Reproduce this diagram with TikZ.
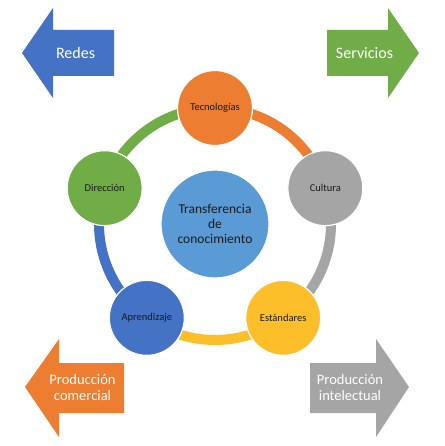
\documentclass[tikz,border=0pt]{standalone}
\usepackage{fontspec}
\setmainfont{Carlito}
\usetikzlibrary{calc}
\definecolor{oblue}{HTML}{4472C4}
\definecolor{oorange}{HTML}{ED7D31}
\definecolor{ogray}{HTML}{A5A5A5}
\definecolor{oyellow}{HTML}{FCBF2A}
\definecolor{ogreen}{HTML}{70AD47}
\definecolor{olblue}{HTML}{5B9BD5}
\definecolor{otext}{HTML}{1A1A1A}
\pgfdeclarelayer{bg}
\pgfsetlayers{bg,main}
\begin{document}
\begin{tikzpicture}[x=1pt,y=-1pt,
  bubble/.style={circle,draw=white,line width=1.2pt,minimum size=75pt,inner sep=0pt,
    font=\fontsize{10.5}{12}\selectfont,text=otext},
  ringarc/.style={line width=10pt},
  arrowtext/.style={text=white,align=center,font=\fontsize{16}{17}\selectfont},
  arrowtexts/.style={text=white,align=center,font=\fontsize{14.5}{16}\selectfont}]
\useasboundingbox (0,0) rectangle (444,446);
\coordinate (ctr) at (215,224);
\node[bubble,fill=oorange] (tec) at ($(ctr)+(-90:116)$) {Tecnologías};
\node[bubble,fill=ogray] (cul) at ($(ctr)+(-18:116)$) {Cultura};
\node[bubble,fill=oyellow] (est) at ($(ctr)+(54:116)$) {Estándares};
\node[bubble,fill=oblue] (apr) at ($(ctr)+(126:116)$) {Aprendizaje};
\node[bubble,fill=ogreen] (dir) at ($(ctr)+(198:116)$) {Dirección};
\node[circle,draw=white,line width=1.2pt,fill=olblue,minimum size=108pt,inner sep=0pt,
  align=center,text=otext,font=\fontsize{13.5}{15}\selectfont] (tra) at (ctr)
  {Transferencia\\de\\conocimiento};
\begin{pgfonlayer}{bg}
\fill[white] (0,0) rectangle (444,446);
\draw[ringarc,oorange] (tec.center) arc[start angle=-90,end angle=-18,radius=116];
\draw[ringarc,ogray] (cul.center) arc[start angle=-18,end angle=54,radius=116];
\draw[ringarc,oyellow] (est.center) arc[start angle=54,end angle=126,radius=116];
\draw[ringarc,oblue] (apr.center) arc[start angle=126,end angle=198,radius=116];
\draw[ringarc,ogreen] (dir.center) arc[start angle=198,end angle=270,radius=116];
\end{pgfonlayer}
% arrows
\fill[oblue] (22,53) -- (53,8) -- (53,30) -- (114,30) -- (114,76) -- (53,76) -- (53,98) -- cycle;
\node[arrowtext] (redes) at (75.5,53) {Redes};
\fill[ogreen] (419,53) -- (388,8) -- (388,30) -- (327,30) -- (327,76) -- (388,76) -- (388,98) -- cycle;
\node[arrowtext] (serv) at (364.5,53) {Servicios};
\fill[oorange] (25,387) -- (59,339) -- (59,363) -- (124,363) -- (124,413) -- (59,413) -- (59,437) -- cycle;
\node[arrowtexts] (pcom) at (82.5,387.5) {Producción\\comercial};
\fill[ogray] (409,387) -- (376,339) -- (376,363) -- (310,363) -- (310,413) -- (376,413) -- (376,437) -- cycle;
\node[arrowtexts] (pint) at (350,387.5) {Producción\\intelectual};
\end{tikzpicture}
\end{document}
